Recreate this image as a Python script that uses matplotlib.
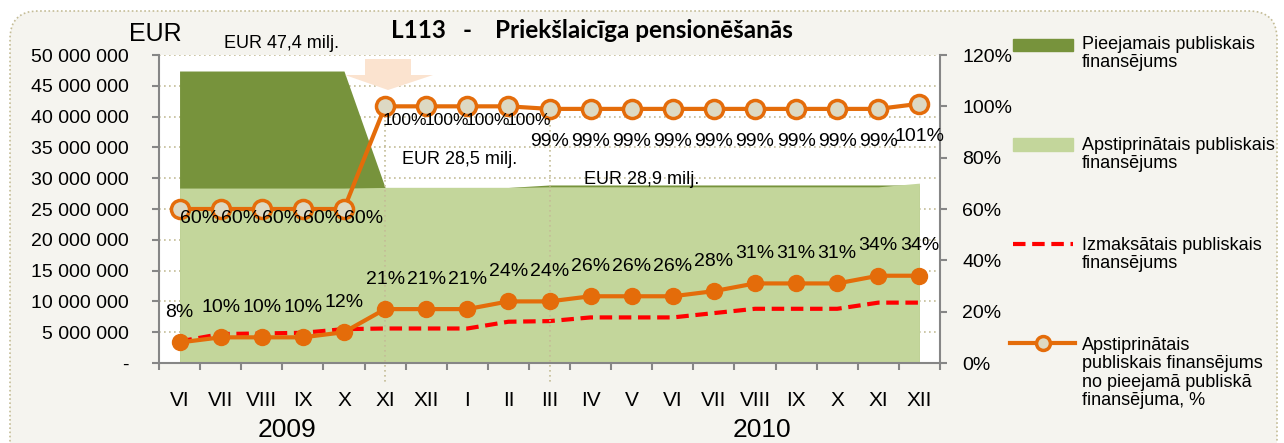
import matplotlib
matplotlib.use("Agg")
import matplotlib.pyplot as plt
import numpy as np
from matplotlib import font_manager
from matplotlib.patches import FancyBboxPatch, Polygon, Rectangle
from matplotlib.lines import Line2D
from matplotlib.transforms import IdentityTransform

months = ['VI', 'VII', 'VIII', 'IX', 'X', 'XI', 'XII', 'I', 'II', 'III',
          'IV', 'V', 'VI', 'VII', 'VIII', 'IX', 'X', 'XI', 'XII']
# million EUR
pieejamais = [47.4, 47.4, 47.4, 47.4, 47.4, 28.5, 28.5, 28.5, 28.5, 28.9,
              28.9, 28.9, 28.9, 28.9, 28.9, 28.9, 28.9, 28.9, 28.9]
apstiprinatais = [28.4, 28.4, 28.4, 28.4, 28.4, 28.5, 28.5, 28.5, 28.5, 28.6,
                  28.6, 28.6, 28.6, 28.6, 28.6, 28.6, 28.6, 28.6, 29.2]
izmaksatais = [3.5, 4.7, 4.8, 4.9, 5.5, 5.6, 5.6, 5.6, 6.7, 6.8,
               7.4, 7.4, 7.4, 8.1, 8.8, 8.8, 8.8, 9.8, 9.8]
# percent
pct_apst = [60, 60, 60, 60, 60, 100, 100, 100, 100, 99,
            99, 99, 99, 99, 99, 99, 99, 99, 101]
pct_izm = [8, 10, 10, 10, 12, 21, 21, 21, 24, 24,
           26, 26, 26, 28, 31, 31, 31, 34, 34]
eur_ticks = [0, 5, 10, 15, 20, 25, 30, 35, 40, 45, 50]
pct_ticks = [0, 20, 40, 60, 80, 100, 120]

DARK_GREEN = '#77933C'
LIGHT_GREEN = '#C3D69B'
ORANGE = '#E46C0A'
MARKER_FILL = '#DDD9C3'
GRID = '#C4BC96'
SPINE = '#868686'
BG = '#F5F4EF'

names = {f.name for f in font_manager.fontManager.ttflist}
NARROW = 'Liberation Sans Narrow' if 'Liberation Sans Narrow' in names else 'Liberation Sans'
FS = 16 if NARROW == 'Liberation Sans Narrow' else 14
plt.rcParams['font.family'] = [NARROW, 'DejaVu Sans']

W, H = 1284, 443


def fx(x):
    return x / W


def fy(y):
    return 1 - y / H


fig = plt.figure(figsize=(W / 100, H / 100), dpi=100, facecolor='white')

# rounded dotted frame
frame = FancyBboxPatch((10, -40), 1267, H - 10 + 40 - 1,
                       boxstyle="round,pad=0,rounding_size=28",
                       transform=IdentityTransform(), facecolor=BG,
                       edgecolor=GRID, linestyle=(0, (1, 1.5)), linewidth=1.2,
                       zorder=-5)
fig.patches.append(frame)

ax = fig.add_axes([fx(159), fy(363), (940 - 159) / W, (363 - 55) / H])
ax.set_facecolor('white')
x = np.arange(len(months))

ax.fill_between(x, 0, np.array(pieejamais) * 1e6, color=DARK_GREEN, lw=0, zorder=1)
ax.fill_between(x, 0, np.array(apstiprinatais) * 1e6, color=LIGHT_GREEN, lw=0, zorder=2)
ax.plot(x, np.array(izmaksatais) * 1e6, color='#FF0000', lw=3, ls=(0, (3, 1.6)), zorder=3)

ax.set_xlim(-0.5, len(months) - 0.5)
ax.set_ylim(0, 50e6)
ax.set_yticks([t * 1e6 for t in eur_ticks])
ax.set_yticklabels(['-'] + [f'{t * 1000000:,}'.replace(',', ' ') for t in eur_ticks[1:]])
ax.set_xticks(x)
ax.set_xticklabels(months)
ax.set_xticks(np.arange(-0.5, len(months), 1), minor=True)
ax.tick_params(axis='x', which='major', length=0, pad=20, labelsize=FS + 1)
ax.tick_params(axis='x', which='minor', length=5, width=1.5, color=SPINE, direction='out')
ax.tick_params(axis='y', length=5, width=1.5, color=SPINE, pad=17, labelsize=FS)
ax.grid(axis='y', color=GRID, ls=(0, (1, 2)), lw=1.2)
ax.set_axisbelow(True)
for s in ['top', 'right']:
    ax.spines[s].set_visible(False)
for s in ['left', 'bottom']:
    ax.spines[s].set_color(SPINE)
    ax.spines[s].set_linewidth(1.5)

# vertical dotted markers at XI 2009 and III 2010
for i in [5, 9]:
    ax.plot([i, i], [0.82, -0.065], transform=ax.get_xaxis_transform(),
            color=GRID, ls=(0, (1, 2)), lw=1.2, clip_on=False, zorder=4)

ax2 = ax.twinx()
ax2.set_ylim(0, 120)
ax2.set_yticks(pct_ticks)
ax2.set_yticklabels([f'{t}%' for t in pct_ticks])
ax2.tick_params(axis='y', length=5, width=1.5, color=SPINE, pad=11, labelsize=FS)
for s in ['top', 'left', 'bottom']:
    ax2.spines[s].set_visible(False)
ax2.spines['right'].set_color(SPINE)
ax2.spines['right'].set_linewidth(1.5)

ax2.plot(x, pct_izm, color=ORANGE, lw=3, marker='o', ms=11.5, mfc=ORANGE,
         mec=ORANGE, zorder=5)
ax2.plot(x, pct_apst, color=ORANGE, lw=3, marker='o', ms=13, mfc=MARKER_FILL,
         mec=ORANGE, mew=2.5, zorder=6)

for i, v in enumerate(pct_izm):
    ax2.annotate(f'{v}%', (i, v), xytext=(0, 30), textcoords='offset pixels',
                 ha='center', va='center', fontsize=FS, zorder=7)
for i, v in enumerate(pct_apst):
    fs = FS
    if i < 5:
        off, ha = (0, -9), 'left'
    elif i < 9:
        off, ha, fs = (-2, -14), 'left', FS - 1.5
    else:
        off, ha = (0, -33), 'center'
    ax2.annotate(f'{v}%', (i, v), xytext=off, textcoords='offset pixels',
                 ha=ha, va='center', fontsize=fs, zorder=7)

# arrow
arrow = Polygon([(fx(365), fy(59)), (fx(411), fy(59)), (fx(411), fy(75)),
                 (fx(433), fy(75)), (fx(388), fy(90)), (fx(345), fy(75)),
                 (fx(365), fy(75))], closed=True, transform=fig.transFigure,
                facecolor='#FBE3CF', edgecolor='none', zorder=3)
fig.patches.append(arrow)

# texts
title_font = dict(fontsize=17.5, fontweight='bold', family=['Lato', 'DejaVu Sans'])
fig.text(fx(418), fy(30), 'L113', ha='center', va='center', **title_font)
fig.text(fx(467), fy(30), '-', ha='center', va='center', **title_font)
fig.text(fx(495), fy(30), 'Priekšlaicīga pensionēšanās', ha='left', va='center',
         **title_font)
fig.text(fx(155), fy(34), 'EUR', ha='center', va='center', fontsize=18)
fig.text(fx(281), fy(44), 'EUR 47,4 milj.', ha='center', va='center', fontsize=FS - 1)
fig.text(fx(460), fy(160), 'EUR 28,5 milj.', ha='center', va='center', fontsize=FS - 1)
fig.text(fx(642), fy(180), 'EUR 28,9 milj.', ha='center', va='center', fontsize=FS - 1)
fig.text(fx(287), fy(430), '2009', ha='center', va='center', fontsize=19)
fig.text(fx(762), fy(430), '2010', ha='center', va='center', fontsize=19)

# legend
LX0, LX1, TX = 1013, 1073, 1082
fig.patches.append(Rectangle((fx(LX0), fy(51)), fx(LX1 - LX0), 12 / H,
                             transform=fig.transFigure, color=DARK_GREEN))
fig.patches.append(Rectangle((fx(LX0), fy(151)), fx(LX1 - LX0), 13 / H,
                             transform=fig.transFigure, color=LIGHT_GREEN))
fig.add_artist(Line2D([fx(LX0), fx(LX1)], [fy(244), fy(244)], color='#FF0000',
                      lw=3, ls=(0, (3, 1.6)), transform=fig.transFigure))
fig.add_artist(Line2D([fx(LX0 - 3), fx(LX1 + 2)], [fy(343), fy(343)], color=ORANGE,
                      lw=3, transform=fig.transFigure))
fig.add_artist(Line2D([fx(1043)], [fy(343)], color=ORANGE, marker='o', ms=10,
                      mfc=MARKER_FILL, mec=ORANGE, mew=2.5, transform=fig.transFigure))
legend_texts = [(36, 'Pieejamais publiskais\nfinansējums'),
                (137, 'Apstiprinātais publiskais\nfinansējums'),
                (237, 'Izmaksātais publiskais\nfinansējums'),
                (337, 'Apstiprinātais\npubliskais finansējums\nno pieejamā publiskā\nfinansējuma, %')]
for ty, t in legend_texts:
    fig.text(fx(TX), fy(ty), t, ha='left', va='top', fontsize=FS - 1, linespacing=1.1)

fig.savefig('out.png', dpi=100, facecolor='white')
